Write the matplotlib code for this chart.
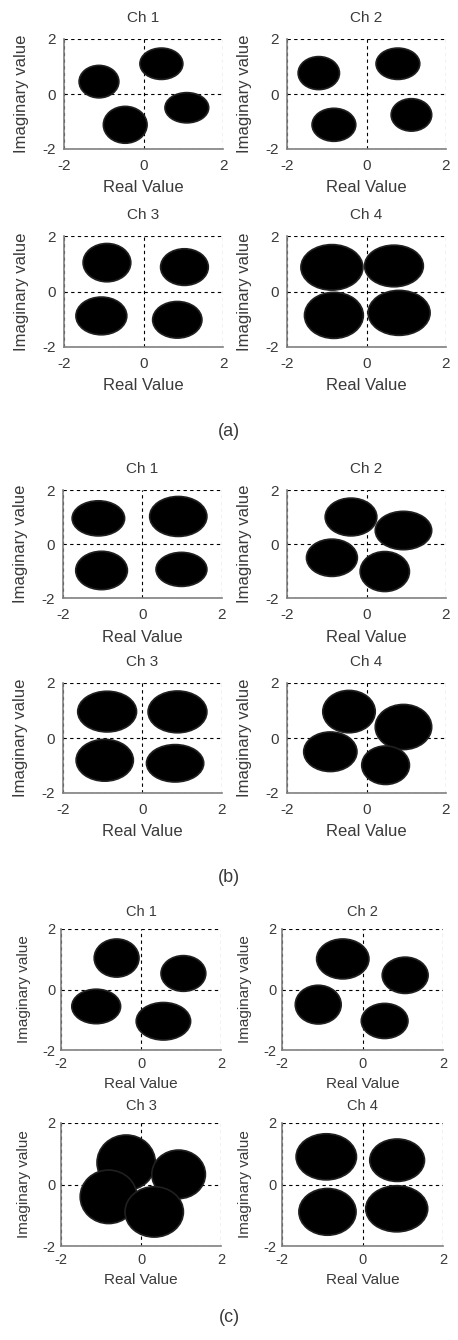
import matplotlib
matplotlib.use("Agg")
import matplotlib.pyplot as plt
from matplotlib.patches import Ellipse

plt.rcParams['font.family'] = ['Liberation Sans', 'DejaVu Sans']

# ---- data: cluster centres (x, y) and half-spreads (rx, ry) per panel ----
# group (a)
a1_x = [-1.12, 0.45, 1.09, -0.46]
a1_y = [0.45, 1.10, -0.50, -1.12]
a1_rx = [0.50, 0.54, 0.55, 0.55]
a1_ry = [0.59, 0.57, 0.55, 0.67]

a2_x = [-1.20, 0.79, -0.82, 1.13]
a2_y = [0.76, 1.10, -1.12, -0.76]
a2_rx = [0.52, 0.55, 0.55, 0.51]
a2_ry = [0.60, 0.57, 0.60, 0.59]

a3_x = [-0.92, 1.03, -1.06, 0.85]
a3_y = [1.04, 0.88, -0.88, -1.02]
a3_rx = [0.60, 0.60, 0.64, 0.62]
a3_ry = [0.69, 0.66, 0.68, 0.66]

a4_x = [-0.87, 0.69, -0.82, 0.82]
a4_y = [0.87, 0.92, -0.86, -0.77]
a4_rx = [0.78, 0.74, 0.74, 0.78]
a4_ry = [0.82, 0.75, 0.83, 0.81]

# group (b)
b1_x = [-1.11, 0.90, -1.03, 0.98]
b1_y = [0.95, 1.02, -0.98, -0.94]
b1_rx = [0.66, 0.72, 0.65, 0.64]
b1_ry = [0.65, 0.74, 0.71, 0.63]

b2_x = [-0.39, 0.93, -0.87, 0.46]
b2_y = [1.00, 0.50, -0.51, -1.02]
b2_rx = [0.65, 0.71, 0.64, 0.62]
b2_ry = [0.70, 0.71, 0.69, 0.74]

b3_x = [-0.89, 0.88, -0.95, 0.82]
b3_y = [0.96, 0.95, -0.81, -0.92]
b3_rx = [0.74, 0.74, 0.72, 0.72]
b3_ry = [0.74, 0.76, 0.76, 0.68]

b4_x = [-0.44, 0.93, -0.91, 0.48]
b4_y = [0.96, 0.40, -0.50, -0.99]
b4_rx = [0.66, 0.71, 0.67, 0.60]
b4_ry = [0.77, 0.82, 0.72, 0.70]

# group (c)
c1_x = [-0.61, 1.06, -1.12, 0.56]
c1_y = [1.04, 0.53, -0.56, -1.05]
c1_rx = [0.56, 0.56, 0.61, 0.68]
c1_ry = [0.63, 0.59, 0.57, 0.62]

c2_x = [-0.49, 1.06, -1.10, 0.55]
c2_y = [1.01, 0.47, -0.50, -1.04]
c2_rx = [0.65, 0.57, 0.57, 0.58]
c2_ry = [0.66, 0.60, 0.64, 0.58]

c3_x = [-0.37, 0.94, -0.81, 0.33]
c3_y = [0.71, 0.33, -0.40, -0.89]
c3_rx = [0.73, 0.67, 0.71, 0.73]
c3_ry = [0.90, 0.79, 0.87, 0.82]

c4_x = [-0.90, 0.86, -0.87, 0.85]
c4_y = [0.90, 0.79, -0.89, -0.79]
c4_rx = [0.75, 0.68, 0.71, 0.77]
c4_ry = [0.75, 0.69, 0.76, 0.75]

titles = ["Ch 1", "Ch 2", "Ch 3", "Ch 4"]
group_labels = ["(a)", "(b)", "(c)"]
ticks = [-2, 0, 2]
tick_labels = ["-2", "0", "2"]

panels = [
    [(a1_x, a1_y, a1_rx, a1_ry), (a2_x, a2_y, a2_rx, a2_ry),
     (a3_x, a3_y, a3_rx, a3_ry), (a4_x, a4_y, a4_rx, a4_ry)],
    [(b1_x, b1_y, b1_rx, b1_ry), (b2_x, b2_y, b2_rx, b2_ry),
     (b3_x, b3_y, b3_rx, b3_ry), (b4_x, b4_y, b4_rx, b4_ry)],
    [(c1_x, c1_y, c1_rx, c1_ry), (c2_x, c2_y, c2_rx, c2_ry),
     (c3_x, c3_y, c3_rx, c3_ry), (c4_x, c4_y, c4_rx, c4_ry)],
]

# ---- layout (pixels) ----
W, H = 458, 1340
fig = plt.figure(figsize=(W / 100, H / 100), dpi=100)

rows = [[(39, 149), (236, 347)],
        [(490, 598), (683, 793)],
        [(929, 1050), (1123, 1246)]]
cols = [[(64, 223), (287, 446)],
        [(63, 222), (287, 446)],
        [(61, 221), (282, 443)]]
label_y = [432, 878, 1318]
title_fs = [11, 11, 10.5]
tick_fs = [11, 11, 10.5]
lab_fs = [12, 12, 11]
title_off = [21, 21, 17]   # px above axes (text centre)
tick_off = [17, 17, 14]    # px below axes (text centre)
xlab_off = [39, 39, 34]
ylab_off = [42, 42, 37]

txt_col = "#3a3a3a"
for g in range(3):
    for k in range(4):
        r, c = divmod(k, 2)
        top, bot = rows[g][r]
        left, right = cols[g][c]
        wpx, hpx = right - left, bot - top
        ax = fig.add_axes([left / W, 1 - bot / H, wpx / W, hpx / H])
        xs, ys, rxs, rys = panels[g][k]
        for x, y, rx, ry in zip(xs, ys, rxs, rys):
            ax.add_patch(Ellipse((x, y), 2 * rx, 2 * ry, facecolor="black",
                                 edgecolor="#202020", linewidth=1.2, zorder=3))
        ax.set_xlim(-2, 2)
        ax.set_ylim(-2, 2)
        ax.set_xticks(ticks)
        ax.set_yticks(ticks)
        ax.set_xticklabels(tick_labels)
        ax.set_yticklabels(tick_labels)
        tpad = (tick_off[g] - 7) * 0.72
        ax.tick_params(length=0, labelsize=tick_fs[g], labelcolor=txt_col, pad=tpad)
        ax.tick_params(axis="y", pad=tpad - 1)
        ax.grid(True, linestyle=(0, (3, 3)), color="black", linewidth=0.8)
        ax.set_axisbelow(True)
        for s in ["top", "right"]:
            ax.spines[s].set_visible(False)
        for s in ["left", "bottom"]:
            ax.spines[s].set_color("#808080")
            ax.spines[s].set_linewidth(1.2)
        ax.text(0.5, 1 + title_off[g] / hpx, titles[k], transform=ax.transAxes,
                ha="center", va="center", fontsize=title_fs[g], color=txt_col)
        ax.set_xlabel("Real Value", fontsize=lab_fs[g], color=txt_col)
        ax.set_ylabel("Imaginary value", fontsize=lab_fs[g], color=txt_col)
        ax.xaxis.set_label_coords(0.5, -xlab_off[g] / hpx)
        ax.yaxis.set_label_coords(-ylab_off[g] / wpx, 0.5)
        ax.xaxis.label.set_va("center")
        ax.yaxis.label.set_va("center")
        ax.yaxis.label.set_ha("center")
    fig.text(229 / W, 1 - label_y[g] / H, group_labels[g], ha="center", va="center",
             fontsize=13, color=txt_col)

fig.savefig("out.png", dpi=100, facecolor="white")
